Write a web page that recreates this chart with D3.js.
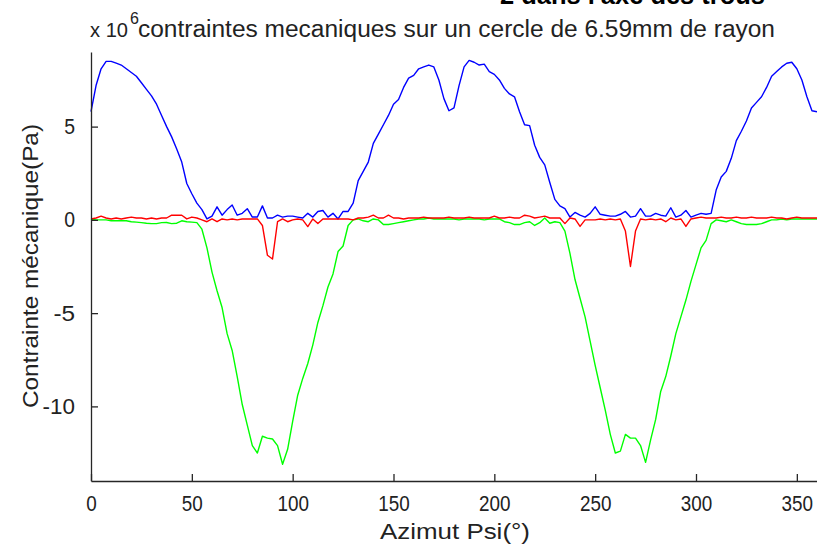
<!DOCTYPE html>
<html><head><meta charset="utf-8">
<script src="https://cdnjs.cloudflare.com/ajax/libs/d3/7.8.5/d3.min.js"></script>
<style>body{margin:0;background:#fff}svg{display:block}text{font-family:"Liberation Sans",Arial,sans-serif}</style>
</head><body><svg id="c" width="817" height="546"></svg>
<script>
const angleStep = 2.5;
const angles = d3.range(0, 360 + angleStep / 2, angleStep);
const blueValues = [5.8,7.2,8.1,8.5,8.5,8.4,8.3,8.1,7.9,7.7,7.35,7.0,6.65,6.2,5.6,5.0,4.45,3.8,3.1,1.95,1.4,0.9,0.55,0.05,0.2,0.7,0.25,0.55,0.8,0.25,0.35,0.6,0.15,0.15,0.75,0.1,0.1,0.25,0.15,0.2,0.2,0.15,0.1,0.35,0.15,0.45,0.5,0.15,0.35,0.05,0.45,0.45,0.9,2.1,2.6,3.1,4.1,4.6,5.1,5.6,6.2,6.45,7.1,7.6,7.75,8.1,8.2,8.3,8.2,7.5,6.5,5.85,6.0,7.2,8.2,8.55,8.45,8.3,8.35,7.95,7.8,7.5,7.05,6.75,6.6,5.8,5.1,5.05,4.0,3.35,2.95,2.0,1.1,0.75,0.6,0.15,0.4,0.25,0.15,0.35,0.7,0.3,0.25,0.2,0.2,0.3,0.45,0.15,0.2,0.6,0.2,0.2,0.35,0.25,0.2,0.65,0.15,0.25,0.5,0.15,0.25,0.35,0.3,0.35,1.6,2.3,2.6,3.3,4.25,4.75,5.3,6.0,6.3,6.6,7.1,7.7,7.95,8.2,8.4,8.45,8.1,7.5,6.6,5.85,5.8];
const greenValues = [0.05,0.0,0.0,0.0,-0.05,-0.05,-0.05,-0.05,-0.1,-0.12,-0.15,-0.18,-0.2,-0.2,-0.15,-0.14,-0.2,-0.18,-0.05,-0.1,-0.12,-0.15,-0.5,-1.5,-2.8,-3.8,-4.7,-6.1,-7.0,-8.4,-9.9,-11.0,-12.1,-12.5,-11.6,-11.7,-11.75,-12.1,-13.1,-12.3,-10.8,-9.4,-8.5,-7.7,-6.7,-5.5,-4.6,-3.6,-2.9,-1.7,-1.4,-0.3,0.0,0.05,-0.05,-0.1,0.05,0.0,-0.25,-0.25,-0.2,-0.15,-0.1,-0.05,0.0,0.05,0.05,0.1,0.05,0.05,0.05,0.05,0.05,0.0,0.05,0.05,0.05,0.05,0.0,0.05,0.05,0.05,-0.1,-0.15,-0.25,-0.25,-0.15,-0.1,-0.3,-0.15,0.1,-0.18,-0.1,-0.15,-0.6,-1.8,-3.2,-4.2,-5.2,-6.5,-7.8,-9.0,-10.2,-11.5,-12.5,-12.4,-11.5,-11.7,-11.7,-12.1,-13.0,-11.8,-10.7,-9.2,-8.4,-7.3,-6.1,-5.2,-4.3,-3.3,-2.4,-1.5,-1.1,-0.2,0.0,-0.05,-0.1,0.0,-0.1,-0.2,-0.25,-0.25,-0.25,-0.2,-0.1,0.0,0.0,0.05,0.0,0.05,0.05,0.05,0.05,0.05,0.05];
const redValues = [0.05,0.1,0.2,0.1,0.05,0.1,0.05,0.1,0.15,0.1,0.1,0.05,0.1,0.05,0.1,0.1,0.25,0.25,0.25,0.05,0.15,0.1,0.0,-0.1,0.05,-0.1,0.05,0.0,0.05,0.0,0.05,0.05,0.05,0.05,-0.3,-1.9,-2.1,-0.1,0.05,-0.1,0.0,0.05,0.0,-0.36,0.05,-0.2,0.05,0.05,0.05,0.05,0.05,0.05,0.0,0.1,0.1,0.15,0.25,0.1,0.1,0.25,0.1,0.1,0.05,0.1,0.1,0.1,0.15,0.1,0.1,0.1,0.1,0.15,0.1,0.1,0.1,0.15,0.1,0.1,0.1,0.1,0.2,0.1,0.1,0.15,0.1,0.1,0.25,0.2,0.1,0.15,0.2,0.1,0.1,0.1,-0.2,0.1,0.05,-0.35,0.0,0.0,0.0,0.05,0.0,0.05,0.0,0.05,-0.6,-2.5,-0.6,0.05,0.0,0.05,0.0,0.05,-0.1,0.1,0.0,0.05,-0.35,0.05,0.1,0.15,0.1,0.1,0.1,0.15,0.1,0.1,0.15,0.1,0.1,0.15,0.1,0.1,0.1,0.15,0.1,0.1,0.05,0.1,0.15,0.1,0.1,0.1,0.1];
const xTicks = [0,50,100,150,200,250,300,350];
const yTicks = [-10,-5,0,5];
const xDomain = [0, 360];
const yDomain = [-14, 9];
const seriesList = [
  {name:"blue", values: blueValues, color:"#0000ff"},
  {name:"green", values: greenValues, color:"#00ff00"},
  {name:"red", values: redValues, color:"#ff0000"}
];

const svg = d3.select("#c");
const mLeft = 91, mRight = 817, mTop = 52, mBottom = 481;
const x = d3.scaleLinear().domain(xDomain).range([mLeft, mRight]);
const y = d3.scaleLinear().domain(yDomain).range([mBottom, mTop]);
const axisColor = "#262626";

// cut-off top heading (only its lower edge is visible in the reference)
svg.append("text").attr("x", 500).attr("y", 4).attr("font-size", 26).attr("font-weight", "bold")
  .attr("fill", "#000").attr("textLength", 265).attr("lengthAdjust", "spacingAndGlyphs")
  .text("2 dans l'axe des trous");

// title with exponent
svg.append("text").attr("x", 90).attr("y", 37).attr("font-size", 21).attr("fill", "#222")
  .attr("textLength", 38).attr("lengthAdjust", "spacingAndGlyphs").text("x 10");
svg.append("text").attr("x", 130).attr("y", 24).attr("font-size", 16).attr("fill", "#222").text("6");
svg.append("text").attr("x", 138).attr("y", 37).attr("font-size", 23).attr("fill", "#222")
  .attr("textLength", 637).attr("lengthAdjust", "spacingAndGlyphs")
  .text("contraintes mecaniques sur un cercle de 6.59mm de rayon");

// lines
const line = d3.line().x((d, i) => x(angles[i])).y(d => y(d));
seriesList.forEach(s => {
  svg.append("path").datum(s.values).attr("d", line).attr("fill", "none")
    .attr("stroke", s.color).attr("stroke-width", 1.4).attr("stroke-linejoin", "round");
});

// axes
const fmt = d => String(d);
const xAxis = d3.axisBottom(x).tickValues(xTicks).tickFormat(fmt).tickSizeInner(-7).tickSizeOuter(0).tickPadding(14);
const yAxis = d3.axisLeft(y).tickValues(yTicks).tickFormat(fmt).tickSizeInner(-7).tickSizeOuter(0).tickPadding(16);
const gx = svg.append("g").attr("transform", `translate(0,${mBottom})`).call(xAxis);
const gy = svg.append("g").attr("transform", `translate(${mLeft},0)`).call(yAxis);
[gx, gy].forEach(g => {
  g.select(".domain").attr("stroke", axisColor).attr("stroke-width", 1.3);
  g.selectAll(".tick line").attr("stroke", axisColor).attr("stroke-width", 1.3);
  g.selectAll(".tick text").attr("fill", "#222").attr("font-size", 22)
    .attr("font-family", "'Liberation Sans',Arial,sans-serif");
});
gx.selectAll(".tick text").attr("textLength", d => String(d).length * 10.5).attr("lengthAdjust", "spacingAndGlyphs");
gy.selectAll(".tick text").attr("textLength", d => (String(d).length) * 10.8).attr("lengthAdjust", "spacingAndGlyphs");

// axis labels
svg.append("text").attr("x", 455).attr("y", 539).attr("text-anchor", "middle").attr("font-size", 22)
  .attr("fill", "#222").attr("textLength", 150).attr("lengthAdjust", "spacingAndGlyphs").text("Azimut Psi(°)");
svg.append("text").attr("transform", "translate(38,266) rotate(-90)").attr("text-anchor", "middle")
  .attr("font-size", 22).attr("fill", "#222").attr("textLength", 284).attr("lengthAdjust", "spacingAndGlyphs")
  .text("Contrainte mécanique(Pa)");
</script></body></html>
